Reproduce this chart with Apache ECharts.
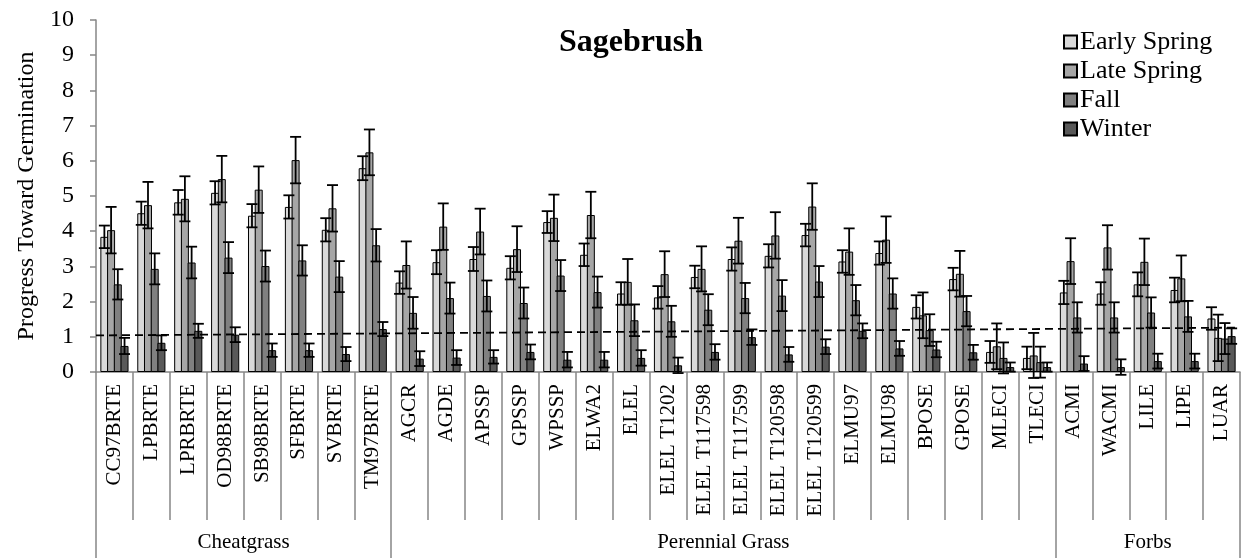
<!DOCTYPE html>
<html>
<head>
<meta charset="utf-8">
<script src="https://cdn.jsdelivr.net/npm/echarts@6/dist/echarts.min.js"></script>
<style>
  html, body { margin: 0; padding: 0; background: #fff; }
  #chart { width: 1251px; height: 558px; }
</style>
</head>
<body>
<div id="chart"></div>
<script>
// categories and groups
var species = ['CC97BRTE', 'LPBRTE', 'LPRBRTE', 'OD98BRTE', 'SB98BRTE', 'SFBRTE', 'SVBRTE', 'TM97BRTE',
  'AGCR', 'AGDE', 'APSSP', 'GPSSP', 'WPSSP', 'ELWA2', 'ELEL', 'ELEL T1202', 'ELEL T117598', 'ELEL T117599',
  'ELEL T120598', 'ELEL T120599', 'ELMU97', 'ELMU98', 'BPOSE', 'GPOSE', 'MLECI', 'TLECI',
  'ACMI', 'WACMI', 'LILE', 'LIPE', 'LUAR'];
var groupNames = ['Cheatgrass', 'Perennial Grass', 'Forbs'];
var groupSizes = [8, 18, 5];

var seasons = ['Early Spring', 'Late Spring', 'Fall', 'Winter'];
var earlySpring = [3.84, 4.51, 4.82, 5.09, 4.44, 4.69, 4.04, 5.79,
  2.54, 3.12, 3.21, 2.96, 4.26, 3.33, 2.23, 2.12, 2.70, 3.21, 3.30, 3.89, 3.14, 3.38, 1.85, 2.64, 0.57, 0.40,
  2.26, 2.23, 2.49, 2.33, 1.52];
var lateSpring = [4.03, 4.74, 4.92, 5.48, 5.18, 6.02, 4.65, 6.24,
  3.04, 4.13, 3.99, 3.49, 4.38, 4.46, 2.56, 2.78, 2.93, 3.73, 3.88, 4.70, 3.42, 3.76, 1.61, 2.79, 0.73, 0.47,
  3.15, 3.54, 3.13, 2.66, 0.97];
var fall = [2.49, 2.93, 3.11, 3.25, 3.01, 3.17, 2.71, 3.60,
  1.68, 2.10, 2.16, 1.96, 2.74, 2.27, 1.47, 1.44, 1.77, 2.10, 2.17, 2.57, 2.04, 2.23, 1.19, 1.73, 0.40, 0.28,
  1.55, 1.55, 1.69, 1.58, 0.95];
var winter = [0.74, 0.83, 1.17, 1.06, 0.62, 0.62, 0.51, 1.22,
  0.38, 0.41, 0.43, 0.57, 0.35, 0.35, 0.40, 0.19, 0.57, 0.99, 0.50, 0.72, 1.17, 0.67, 0.64, 0.56, 0.14, 0.14,
  0.24, 0.14, 0.31, 0.31, 1.02];

// error bar half-lengths
var earlyErr = [0.32, 0.33, 0.35, 0.33, 0.33, 0.33, 0.33, 0.34,
  0.32, 0.34, 0.34, 0.33, 0.31, 0.32, 0.32, 0.32, 0.32, 0.33, 0.33, 0.32, 0.32, 0.33, 0.33, 0.32, 0.31, 0.32,
  0.33, 0.32, 0.34, 0.35, 0.32];
var lateErr = [0.66, 0.66, 0.64, 0.66, 0.66, 0.66, 0.66, 0.65,
  0.67, 0.66, 0.65, 0.65, 0.66, 0.66, 0.65, 0.65, 0.64, 0.65, 0.66, 0.66, 0.66, 0.66, 0.65, 0.65, 0.65, 0.64,
  0.65, 0.63, 0.66, 0.65, 0.66];
var fallErr = [0.43, 0.44, 0.45, 0.44, 0.44, 0.43, 0.44, 0.46,
  0.45, 0.44, 0.44, 0.44, 0.44, 0.44, 0.45, 0.44, 0.44, 0.43, 0.44, 0.44, 0.43, 0.43, 0.45, 0.43, 0.44, 0.44,
  0.43, 0.43, 0.43, 0.44, 0.44];
var winterErr = [0.23, 0.21, 0.20, 0.21, 0.19, 0.19, 0.20, 0.20,
  0.21, 0.21, 0.19, 0.21, 0.22, 0.22, 0.22, 0.22, 0.22, 0.22, 0.21, 0.21, 0.21, 0.21, 0.22, 0.21, 0.13, 0.13,
  0.21, 0.22, 0.21, 0.21, 0.22];

// dashed reference line (x in category units, 0..31)
var trendX = [0, 31];
var trendY = [1.04, 1.26];

var yTicks = [0, 1, 2, 3, 4, 5, 6, 7, 8, 9, 10];

var values = [earlySpring, lateSpring, fall, winter];
var errors = [earlyErr, lateErr, fallErr, winterErr];
var colors = ['#d9d9d9', '#a6a6a6', '#808080', '#595959'];
var FONT = 'Liberation Serif';
var AXIS_GRAY = '#868686';

var BAR_W = 8;
var BAR_GAP = -0.16;
var step = BAR_W * (1 + BAR_GAP);

// group boundaries and centres
var groupBounds = [0];
var groupCenters = [];
groupSizes.forEach(function (n, i) {
  groupCenters.push(groupBounds[i] + n / 2);
  groupBounds.push(groupBounds[i] + n);
});

function errRenderer(k) {
  return function (params, api) {
    var i = api.value(0), v = api.value(1), e = api.value(2);
    var off = (k - 1.5) * step;
    var hi = api.coord([i, v + e]);
    var lo = api.coord([i, v - e]);
    var x = hi[0] + off;
    var cap = 5.5;
    var st = { stroke: '#000', lineWidth: 1.8 };
    return {
      type: 'group',
      children: [
        { type: 'line', shape: { x1: x, y1: hi[1], x2: x, y2: lo[1] }, style: st },
        { type: 'line', shape: { x1: x - cap, y1: hi[1], x2: x + cap, y2: hi[1] }, style: st },
        { type: 'line', shape: { x1: x - cap, y1: lo[1], x2: x + cap, y2: lo[1] }, style: st }
      ]
    };
  };
}

var series = [];
seasons.forEach(function (name, k) {
  series.push({
    name: name,
    type: 'bar',
    data: values[k],
    barWidth: BAR_W,
    barGap: (BAR_GAP * 100) + '%',
    itemStyle: { color: colors[k], borderColor: '#000', borderWidth: 1 },
    z: 2
  });
});
seasons.forEach(function (name, k) {
  series.push({
    name: name + ' error',
    type: 'custom',
    renderItem: errRenderer(k),
    data: values[k].map(function (v, i) { return [i, v, errors[k][i]]; }),
    z: 5,
    silent: true
  });
});
series.push({
  name: 'reference',
  type: 'line',
  xAxisIndex: 1,
  data: trendX.map(function (x, i) { return [x, trendY[i]]; }),
  symbol: 'none',
  lineStyle: { color: '#000', width: 1.8, type: [8, 5] },
  z: 6,
  silent: true
});

var chart = echarts.init(document.getElementById('chart'), null, { renderer: 'canvas' });
chart.setOption({
  animation: false,
  backgroundColor: '#fff',
  title: {
    text: 'Sagebrush',
    left: 626,
    top: 22,
    textAlign: 'center',
    textStyle: { fontFamily: FONT, fontSize: 32, fontWeight: 'bold', color: '#000' }
  },
  legend: {
    data: seasons,
    orient: 'vertical',
    left: 1058,
    top: 24,
    itemWidth: 13,
    itemHeight: 13,
    itemGap: 3,
    icon: 'rect',
    textStyle: { fontFamily: FONT, fontSize: 26, lineHeight: 26, color: '#000', padding: [0, 0, 0, -2] }
  },
  grid: { left: 96, right: 11, top: 20, bottom: 186, containLabel: false },
  xAxis: [{
    type: 'category',
    data: species,
    boundaryGap: true,
    axisLine: { lineStyle: { color: AXIS_GRAY, width: 1.5 } },
    axisTick: { show: true, interval: 0, length: 148, lineStyle: { color: AXIS_GRAY, width: 1.5 } },
    axisLabel: { interval: 0, rotate: 90, margin: 12, fontFamily: FONT, fontSize: 21, color: '#000' }
  }, {
    type: 'value',
    min: 0,
    max: 31,
    position: 'bottom',
    axisLine: { show: false },
    splitLine: { show: false },
    axisTick: { show: true, customValues: groupBounds, length: 186, lineStyle: { color: AXIS_GRAY, width: 1.5 } },
    axisLabel: {
      customValues: groupCenters,
      margin: 160,
      fontFamily: FONT, fontSize: 21, color: '#000',
      formatter: function (v) {
        var i = groupCenters.indexOf(v);
        return i >= 0 ? groupNames[i] : '';
      }
    }
  }],
  yAxis: {
    type: 'value',
    min: yTicks[0],
    max: yTicks[yTicks.length - 1],
    interval: 1,
    name: 'Progress Toward Germination',
    nameLocation: 'middle',
    nameGap: 43,
    nameTextStyle: { fontFamily: FONT, fontSize: 24, color: '#000' },
    axisLine: { show: true, lineStyle: { color: AXIS_GRAY, width: 1.5 } },
    axisTick: { show: true, length: 6, lineStyle: { color: AXIS_GRAY, width: 1.5 } },
    axisLabel: { margin: 22, fontFamily: FONT, fontSize: 24, color: '#000' },
    splitLine: { show: false }
  },
  series: series
});
</script>
</body>
</html>
